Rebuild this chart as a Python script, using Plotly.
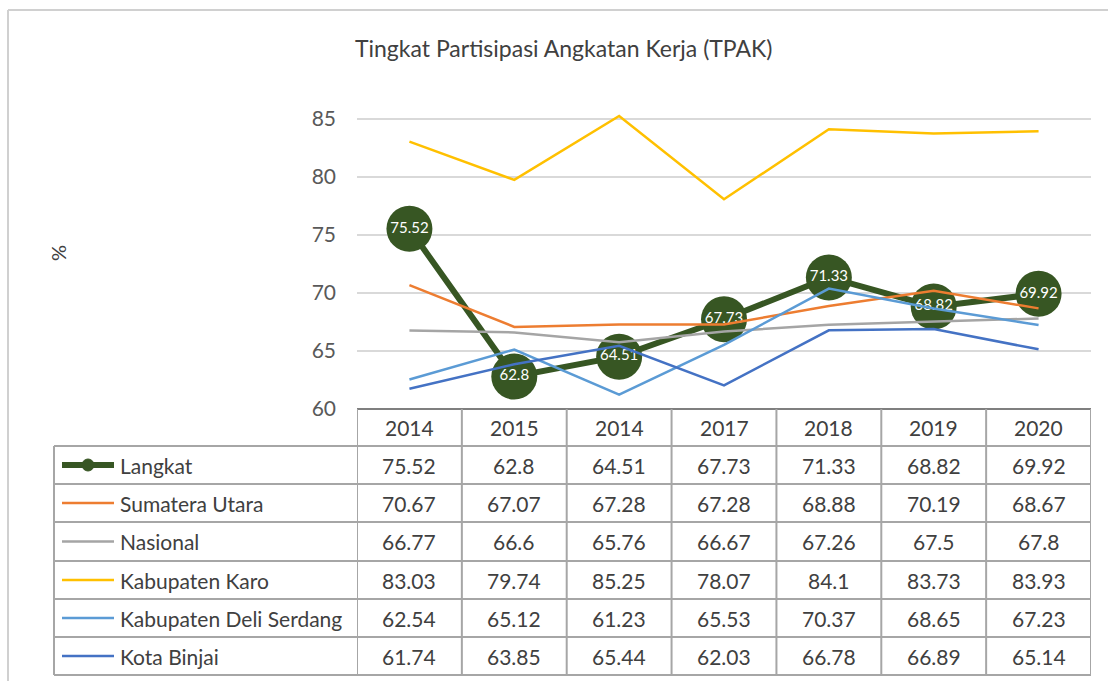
import plotly.graph_objects as go

# ---------------- data ----------------
year_labels = ["2014", "2015", "2014", "2017", "2018", "2019", "2020"]
series_names = ["Langkat", "Sumatera Utara", "Nasional", "Kabupaten Karo",
                "Kabupaten Deli Serdang", "Kota Binjai"]
langkat = [75.52, 62.8, 64.51, 67.73, 71.33, 68.82, 69.92]
sumatera_utara = [70.67, 67.07, 67.28, 67.28, 68.88, 70.19, 68.67]
nasional = [66.77, 66.6, 65.76, 66.67, 67.26, 67.5, 67.8]
kabupaten_karo = [83.03, 79.74, 85.25, 78.07, 84.1, 83.73, 83.93]
kabupaten_deli_serdang = [62.54, 65.12, 61.23, 65.53, 70.37, 68.65, 67.23]
kota_binjai = [61.74, 63.85, 65.44, 62.03, 66.78, 66.89, 65.14]
series_values = [langkat, sumatera_utara, nasional, kabupaten_karo,
                 kabupaten_deli_serdang, kota_binjai]
y_ticks = [60, 65, 70, 75, 80, 85]

# ---------------- styling ----------------
colors = ["#375623", "#ED7D31", "#A5A5A5", "#FFC000", "#5B9BD5", "#4472C4"]
FONT = "Lato"
TXT = "#404040"
W, H = 1108, 681
ML, MR, MT, MB = 357, 17, 113, 272
PW = W - ML - MR
PH = H - MT - MB


def pxx(px):
    return (px - ML) / PW


def pyy(py):
    return (H - MB - py) / PH


def label(xv, yv, text, size, xref="paper", xanchor="center", color=TXT, angle=0):
    return dict(x=xv, y=yv, xref=xref, yref="paper", text=text, showarrow=False,
                xanchor=xanchor, yanchor="middle", textangle=angle,
                font=dict(size=size, color=color, family=FONT))


x = list(range(len(year_labels)))
fig = go.Figure()

for i, (name, vals) in enumerate(zip(series_names, series_values)):
    if i == 0:
        fig.add_trace(go.Scatter(
            x=x, y=vals, name=name, mode="lines+markers+text",
            line=dict(color=colors[i], width=6),
            marker=dict(size=46, color=colors[i]),
            text=[f"{v:g}" for v in vals], textposition="middle center",
            textfont=dict(color="white", size=15, family=FONT),
            cliponaxis=False, showlegend=False))
    else:
        fig.add_trace(go.Scatter(
            x=x, y=vals, name=name, mode="lines",
            line=dict(color=colors[i], width=2.5),
            cliponaxis=False, showlegend=False))

shapes = []
annotations = []
LINE = "#A6A6A6"

row_bounds = [409, 446, 484, 522, 561, 599, 637, 675]
table_left = 54

# top axis line of table
shapes.append(dict(type="line", xref="paper", yref="paper",
                   x0=0, x1=1, y0=pyy(409), y1=pyy(409),
                   line=dict(color="#7F7F7F", width=2)))
# horizontal rows
for rb in row_bounds[1:]:
    shapes.append(dict(type="line", xref="paper", yref="paper",
                       x0=pxx(table_left), x1=1, y0=pyy(rb), y1=pyy(rb),
                       line=dict(color=LINE, width=2)))
# vertical column lines
for k in range(len(year_labels) + 1):
    shapes.append(dict(type="line", xref="x", yref="paper",
                       x0=k - 0.5, x1=k - 0.5, y0=pyy(409), y1=pyy(675),
                       line=dict(color=LINE, width=2)))
shapes.append(dict(type="line", xref="paper", yref="paper",
                   x0=pxx(table_left), x1=pxx(table_left),
                   y0=pyy(446), y1=pyy(675), line=dict(color=LINE, width=2)))

# header labels
for k, lab in enumerate(year_labels):
    annotations.append(label(k, pyy((409 + 446) / 2), lab, 21, xref="x"))

# rows
for i, (name, vals) in enumerate(zip(series_names, series_values)):
    cy = (row_bounds[i + 1] + row_bounds[i + 2]) / 2
    w = 6 if i == 0 else 2.5
    shapes.append(dict(type="line", xref="paper", yref="paper",
                       x0=pxx(62), x1=pxx(114), y0=pyy(cy), y1=pyy(cy),
                       line=dict(color=colors[i], width=w)))
    if i == 0:
        shapes.append(dict(type="circle", xref="paper", yref="paper",
                           x0=pxx(82), x1=pxx(94), y0=pyy(cy - 6), y1=pyy(cy + 6),
                           fillcolor=colors[i], line=dict(color=colors[i], width=1)))
    annotations.append(label(pxx(118), pyy(cy), name, 21, xanchor="left"))
    for k, v in enumerate(vals):
        annotations.append(label(k, pyy(cy), f"{v:g}", 21, xref="x"))

# y-axis title
annotations.append(label(pxx(58), pyy(253), "%", 20, angle=-90))

# title
annotations.append(label(pxx(563), pyy(48), "Tingkat Partisipasi Angkatan Kerja (TPAK)", 23))

# chart border (left + top)
shapes.append(dict(type="line", xref="paper", yref="paper",
                   x0=pxx(8), x1=pxx(8), y0=pyy(10), y1=pyy(H + 5),
                   line=dict(color="#D0D0D0", width=2)))
shapes.append(dict(type="line", xref="paper", yref="paper",
                   x0=pxx(8), x1=pxx(W + 5), y0=pyy(10), y1=pyy(10),
                   line=dict(color="#D0D0D0", width=2)))

fig.update_layout(
    width=W, height=H,
    margin=dict(l=ML, r=MR, t=MT, b=MB, pad=0),
    paper_bgcolor="white", plot_bgcolor="white",
    font=dict(family=FONT, color=TXT),
    xaxis=dict(range=[-0.5, len(year_labels) - 0.5], showticklabels=False,
               showgrid=False, zeroline=False, showline=False, fixedrange=True),
    yaxis=dict(range=[60, 85.5], tickvals=y_ticks, showgrid=True,
               gridcolor="#D9D9D9", gridwidth=1.5, zeroline=False, showline=False,
               tickfont=dict(size=21, color="#595959", family=FONT),
               ticklabelstandoff=20, fixedrange=True),
    shapes=shapes, annotations=annotations,
)

fig.write_html("out.html", post_script="document.body.style.margin='0';",
               config={"displayModeBar": False})
